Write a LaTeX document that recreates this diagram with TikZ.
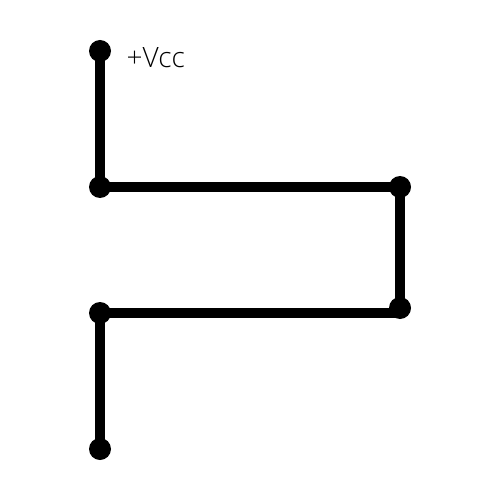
\documentclass[tikz,border=0pt]{standalone}
\usepackage{fontspec}
\setmainfont{Open Sans Light}[]
\tikzset{
  wire/.style={line width=10bp,draw=black},
  term/.style={circle,fill=black,inner sep=0pt,minimum size=22bp},
  lbl/.style={inner sep=0pt,anchor=base west,font=\fontsize{28bp}{33bp}\selectfont}
}
\begin{document}
\begin{tikzpicture}[x=1bp,y=-1bp]
\useasboundingbox (0,0) rectangle (500,500);
\node[term] (a) at (100,51) {};
\node[term] (b) at (100,187) {};
\node[term] (c) at (400,187) {};
\node[term] (d) at (400,308) {};
\node[term] (e) at (100,313) {};
\node[term] (f) at (100,449) {};
\draw[wire] (a.center) -- (b.center);
\draw[wire] (b.center) -- (c.center);
\draw[wire] (c.center) -- (d.center);
\draw[wire] (d.center) |- (e.center);
\draw[wire] (e.center) -- (f.center);
\node[lbl] (v) at (126.5,68) {+Vcc};
\end{tikzpicture}
\end{document}
